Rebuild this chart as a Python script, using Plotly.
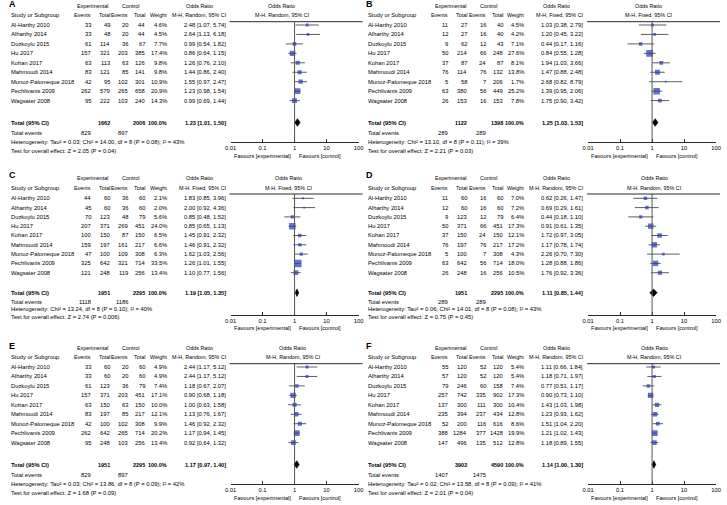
import plotly.graph_objects as go

W, H = 727, 505
FONT = "Liberation Sans, Arial, sans-serif"
TXT = "#000000"
BLUE = "#2438b8"
LINE = "#2a2a2a"
FS = 5.8

studies = ["Al-Harthy 2010", "Alharthy 2014", "Duzkoylu 2015", "Hu 2017", "Kohan 2017",
           "Mahmoudi 2014", "Munoz-Palomeque 2018", "Pechlivanis 2009", "Wagsater 2008"]
tick_vals = [0.01, 0.1, 1, 10, 100]
tick_text = ["0.01", "0.1", "1", "10", "100"]

# ---------------- Panel A ----------------
A_exp_events = [33, 33, 61, 157, 63, 83, 42, 262, 95]
A_exp_total = [49, 48, 114, 321, 113, 121, 95, 579, 222]
A_ctl_events = [20, 20, 36, 203, 63, 85, 102, 265, 103]
A_ctl_total = [44, 44, 67, 385, 126, 141, 301, 658, 240]
A_weight = [4.6, 4.5, 7.7, 17.4, 9.8, 9.8, 10.9, 20.9, 14.3]
A_or = [2.48, 2.64, 0.99, 0.86, 1.26, 1.44, 1.55, 1.23, 0.99]
A_lo = [1.07, 1.13, 0.54, 0.64, 0.76, 0.86, 0.97, 0.98, 0.69]
A_hi = [5.74, 6.18, 1.82, 1.15, 2.10, 2.40, 2.47, 1.54, 1.44]
A_totals = [1662, 2006]
A_pooled = [1.23, 1.01, 1.50]
A_events = [829, 897]
A_method = "M-H, Random, 95% CI"
A_het = "Heterogeneity: Tau² = 0.03; Chi² = 14.00, df = 8 (P = 0.08); I² = 43%"
A_test = "Test for overall effect: Z = 2.05 (P = 0.04)"

# ---------------- Panel B ----------------
B_exp_events = [11, 12, 9, 50, 37, 76, 5, 63, 26]
B_exp_total = [27, 27, 62, 214, 87, 114, 58, 380, 153]
B_ctl_events = [16, 16, 12, 66, 24, 76, 7, 56, 16]
B_ctl_total = [40, 40, 43, 248, 87, 132, 206, 449, 153]
B_weight = [4.5, 4.2, 7.1, 27.6, 8.1, 13.8, 1.7, 25.2, 7.8]
B_or = [1.03, 1.20, 0.44, 0.84, 1.94, 1.47, 2.68, 1.39, 1.75]
B_lo = [0.38, 0.45, 0.17, 0.55, 1.03, 0.88, 0.82, 0.95, 0.90]
B_hi = [2.79, 3.22, 1.16, 1.28, 3.66, 2.48, 8.79, 2.06, 3.42]
B_totals = [1122, 1398]
B_pooled = [1.25, 1.03, 1.53]
B_events = [289, 289]
B_method = "M-H, Fixed, 95% CI"
B_het = "Heterogeneity: Chi² = 13.10, df = 8 (P = 0.11); I² = 39%"
B_test = "Test for overall effect: Z = 2.21 (P = 0.03)"

# ---------------- Panel C ----------------
C_exp_events = [44, 45, 70, 207, 100, 159, 47, 325, 121]
C_exp_total = [60, 60, 123, 371, 150, 197, 100, 642, 248]
C_ctl_events = [36, 36, 48, 269, 87, 161, 109, 321, 119]
C_ctl_total = [60, 60, 79, 451, 150, 217, 308, 714, 256]
C_weight = [2.1, 2.0, 5.6, 24.0, 6.5, 6.6, 6.3, 33.5, 13.4]
C_or = [1.83, 2.00, 0.85, 0.85, 1.45, 1.46, 1.62, 1.26, 1.10]
C_lo = [0.85, 0.92, 0.48, 0.65, 0.91, 0.91, 1.03, 1.01, 0.77]
C_hi = [3.96, 4.36, 1.52, 1.13, 2.32, 2.32, 2.56, 1.55, 1.56]
C_totals = [1951, 2295]
C_pooled = [1.19, 1.05, 1.35]
C_events = [1118, 1186]
C_method = "M-H, Fixed, 95% CI"
C_het = "Heterogeneity: Chi² = 13.24, df = 8 (P = 0.10); I² = 40%"
C_test = "Test for overall effect: Z = 2.74 (P = 0.006)"

# ---------------- Panel D ----------------
D_exp_events = [11, 12, 9, 50, 37, 76, 5, 63, 26]
D_exp_total = [60, 60, 123, 371, 150, 197, 100, 642, 248]
D_ctl_events = [16, 16, 12, 66, 24, 76, 7, 56, 16]
D_ctl_total = [60, 60, 79, 451, 150, 217, 308, 714, 256]
D_weight = [7.0, 7.2, 6.4, 17.3, 12.1, 17.2, 4.3, 18.0, 10.5]
D_or = [0.62, 0.69, 0.44, 0.91, 1.72, 1.17, 2.26, 1.28, 1.76]
D_lo = [0.26, 0.29, 0.18, 0.61, 0.97, 0.78, 0.70, 0.88, 0.92]
D_hi = [1.47, 1.61, 1.10, 1.35, 3.05, 1.74, 7.30, 1.86, 3.36]
D_totals = [1951, 2295]
D_pooled = [1.11, 0.85, 1.44]
D_events = [289, 289]
D_method = "M-H, Random, 95% CI"
D_het = "Heterogeneity: Tau² = 0.06; Chi² = 14.01, df = 8 (P = 0.08); I² = 43%"
D_test = "Test for overall effect: Z = 0.75 (P = 0.45)"

# ---------------- Panel E ----------------
E_exp_events = [33, 33, 61, 157, 63, 83, 42, 262, 95]
E_exp_total = [60, 60, 123, 371, 150, 197, 100, 642, 248]
E_ctl_events = [20, 20, 36, 203, 63, 85, 102, 265, 103]
E_ctl_total = [60, 60, 79, 451, 150, 217, 308, 714, 256]
E_weight = [4.9, 4.9, 7.4, 17.1, 10.0, 12.1, 9.9, 20.2, 13.4]
E_or = [2.44, 2.44, 1.18, 0.90, 1.00, 1.13, 1.46, 1.17, 0.92]
E_lo = [1.17, 1.17, 0.67, 0.68, 0.63, 0.76, 0.92, 0.94, 0.64]
E_hi = [5.12, 5.12, 2.07, 1.18, 1.58, 1.67, 2.32, 1.45, 1.32]
E_totals = [1951, 2295]
E_pooled = [1.17, 0.97, 1.40]
E_events = [829, 897]
E_method = "M-H, Random, 95% CI"
E_het = "Heterogeneity: Tau² = 0.03; Chi² = 13.86, df = 8 (P = 0.09); I² = 42%"
E_test = "Test for overall effect: Z = 1.68 (P = 0.09)"

# ---------------- Panel F ----------------
F_exp_events = [55, 57, 79, 257, 137, 235, 52, 388, 147]
F_exp_total = [120, 120, 246, 742, 300, 394, 200, 1284, 496]
F_ctl_events = [52, 52, 60, 335, 111, 237, 116, 377, 135]
F_ctl_total = [120, 120, 158, 902, 300, 434, 616, 1428, 512]
F_weight = [5.4, 5.4, 7.4, 17.3, 10.4, 12.8, 8.6, 19.9, 12.8]
F_or = [1.11, 1.18, 0.77, 0.90, 1.43, 1.23, 1.51, 1.21, 1.18]
F_lo = [0.66, 0.71, 0.51, 0.73, 1.03, 0.93, 1.04, 1.02, 0.89]
F_hi = [1.84, 1.97, 1.17, 1.10, 1.98, 1.62, 2.20, 1.43, 1.55]
F_totals = [3902, 4590]
F_pooled = [1.14, 1.00, 1.30]
F_events = [1407, 1475]
F_method = "M-H, Random, 95% CI"
F_het = "Heterogeneity: Tau² = 0.02; Chi² = 13.58, df = 8 (P = 0.09); I² = 41%"
F_test = "Test for overall effect: Z = 2.01 (P = 0.04)"


def pack(letter, ee, et, ce, ct, w, o, lo, hi, tots, pooled, ev, method, het, test):
    return dict(letter=letter, ee=ee, et=et, ce=ce, ct=ct, w=w, o=o, lo=lo, hi=hi,
                tots=tots, pooled=pooled, ev=ev, method=method, het=het, test=test)


panels = [
    pack("A", A_exp_events, A_exp_total, A_ctl_events, A_ctl_total, A_weight, A_or, A_lo, A_hi,
         A_totals, A_pooled, A_events, A_method, A_het, A_test),
    pack("B", B_exp_events, B_exp_total, B_ctl_events, B_ctl_total, B_weight, B_or, B_lo, B_hi,
         B_totals, B_pooled, B_events, B_method, B_het, B_test),
    pack("C", C_exp_events, C_exp_total, C_ctl_events, C_ctl_total, C_weight, C_or, C_lo, C_hi,
         C_totals, C_pooled, C_events, C_method, C_het, C_test),
    pack("D", D_exp_events, D_exp_total, D_ctl_events, D_ctl_total, D_weight, D_or, D_lo, D_hi,
         D_totals, D_pooled, D_events, D_method, D_het, D_test),
    pack("E", E_exp_events, E_exp_total, E_ctl_events, E_ctl_total, E_weight, E_or, E_lo, E_hi,
         E_totals, E_pooled, E_events, E_method, E_het, E_test),
    pack("F", F_exp_events, F_exp_total, F_ctl_events, F_ctl_total, F_weight, F_or, F_lo, F_hi,
         F_totals, F_pooled, F_events, F_method, F_het, F_test),
]

# ---------------- layout geometry (pixels) ----------------
GEO_TOP = dict(letter=4, head1=6, head2=15, line=21.7, row0=25, dy=9.45, total=122.5,
               events=133, het=141.5, test=151, axis=142, favours=155.5)
GEO_MID = dict(letter=4, head1=6.7, head2=16.7, line=23, row0=27.3, dy=9.3, total=121.7,
               events=131.3, het=138, test=146.3, axis=144, favours=157)
panel_pos = [(0, 0, GEO_TOP, 280), (363, 0, GEO_TOP, 289),
             (0, 171, GEO_MID, 287), (363, 171, GEO_MID, 295),
             (0, 342, GEO_TOP, 291), (363, 342, GEO_TOP, 295)]
COL = dict(name=4, ee=87, et=106.5, ce=125, ct=142.5, w=164, orr=224,
           exp_c=88, ctl_c=126.5, or_c=196, fl=228, fr=358)
HS = 5.4  # column header font size

fig = go.Figure()
annotations = []
shapes = []


def px(x):
    return x / W


def py(y):
    return 1 - y / H


def ann(x, y, text, anchor="left", size=FS, bold=False):
    if bold:
        text = "<b>" + text + "</b>"
    annotations.append(dict(x=px(x), y=py(y), xref="paper", yref="paper", text=text,
                            showarrow=False, xanchor=anchor, yanchor="middle",
                            font=dict(family=FONT, size=size, color=TXT), borderpad=0))


layout_axes = {}
for k, (p, (x0, y0, g, hx)) in enumerate(zip(panels, panel_pos)):
    idx = k + 1
    xn = "x" if idx == 1 else f"x{idx}"
    yn = "y" if idx == 1 else f"y{idx}"
    ytop = y0 + g["line"]
    ybot = y0 + g["axis"]
    layout_axes["xaxis" if idx == 1 else f"xaxis{idx}"] = dict(
        domain=[px(x0 + COL["fl"]), px(x0 + COL["fr"])], type="log", range=[-2, 2],
        anchor=yn, showgrid=False, zeroline=False, showline=True, linecolor=LINE, linewidth=1,
        ticks="inside", ticklen=3, tickwidth=1, tickcolor=LINE, tickvals=tick_vals,
        ticktext=tick_text, tickfont=dict(family=FONT, size=5.8, color=TXT), fixedrange=True)
    layout_axes["yaxis" if idx == 1 else f"yaxis{idx}"] = dict(
        domain=[py(ybot), py(ytop)], range=[ybot, ytop], anchor=xn, visible=False,
        fixedrange=True)

    rows = [y0 + g["row0"] + i * g["dy"] for i in range(len(studies))]
    ytot = y0 + g["total"]

    # CI lines
    cx, cy = [], []
    for lo, hi, r in zip(p["lo"], p["hi"], rows):
        cx += [lo, hi, None]
        cy += [r, r, None]
    fig.add_trace(go.Scatter(x=cx, y=cy, mode="lines", line=dict(color="#333333", width=0.8),
                             xaxis=xn, yaxis=yn, hoverinfo="skip", showlegend=False))
    # squares, area proportional to weight
    fig.add_trace(go.Scatter(x=p["o"], y=rows, mode="markers",
                             marker=dict(symbol="square", color=BLUE,
                                         size=[1.3 * w ** 0.5 for w in p["w"]], line=dict(width=0)),
                             xaxis=xn, yaxis=yn, hoverinfo="skip", showlegend=False))
    # pooled diamond
    e, lo, hi = p["pooled"]
    dh = 3.8
    fig.add_trace(go.Scatter(x=[lo, e, hi, e, lo], y=[ytot, ytot - dh, ytot, ytot + dh, ytot],
                             mode="lines", fill="toself", fillcolor="#000000",
                             line=dict(color="#000000", width=0.6),
                             xaxis=xn, yaxis=yn, hoverinfo="skip", showlegend=False))
    # vertical null line and header line
    shapes.append(dict(type="line", xref=xn, yref=f"{yn} domain", x0=1, x1=1, y0=0, y1=1,
                       line=dict(color="#555555", width=1)))
    shapes.append(dict(type="line", xref="paper", yref="paper", x0=px(x0 + 227), x1=px(x0 + 362),
                       y0=py(ytop), y1=py(ytop), line=dict(color=LINE, width=1)))

    # text
    ann(x0 + 2, y0 + g["letter"], p["letter"], "left", 9, True)
    ann(x0 + COL["exp_c"], y0 + g["head1"], "Experimental", "center", HS)
    ann(x0 + COL["ctl_c"], y0 + g["head1"], "Control", "center", HS)
    ann(x0 + COL["or_c"], y0 + g["head1"], "Odds Ratio", "center", HS)
    ann(x0 + hx, y0 + g["head1"], "Odds Ratio", "center", HS)
    ann(x0 + COL["name"], y0 + g["head2"], "Study or Subgroup", "left")
    for key, lab in [("ee", "Events"), ("et", "Total"), ("ce", "Events"), ("ct", "Total"), ("w", "Weight")]:
        ann(x0 + COL[key], y0 + g["head2"], lab, "right", HS)
    ann(x0 + COL["orr"], y0 + g["head2"], p["method"], "right", HS)
    ann(x0 + hx, y0 + g["head2"], p["method"], "center", HS)

    for i, r in enumerate(rows):
        ann(x0 + COL["name"], r, studies[i])
        ann(x0 + COL["ee"], r, str(p["ee"][i]), "right")
        ann(x0 + COL["et"], r, str(p["et"][i]), "right")
        ann(x0 + COL["ce"], r, str(p["ce"][i]), "right")
        ann(x0 + COL["ct"], r, str(p["ct"][i]), "right")
        ann(x0 + COL["w"], r, f"{p['w'][i]:.1f}%", "right")
        ann(x0 + COL["orr"], r, f"{p['o'][i]:.2f} [{p['lo'][i]:.2f}, {p['hi'][i]:.2f}]", "right")

    ann(x0 + COL["name"], ytot, "Total (95% CI)", "left", FS, True)
    ann(x0 + COL["et"], ytot, str(p["tots"][0]), "right", 5.5, True)
    ann(x0 + COL["ct"], ytot, str(p["tots"][1]), "right", 5.5, True)
    ann(x0 + COL["w"], ytot, "100.0%", "right", 5.5, True)
    ann(x0 + COL["orr"], ytot, f"{e:.2f} [{lo:.2f}, {hi:.2f}]", "right", 5.6, True)
    ann(x0 + COL["name"], y0 + g["events"], "Total events")
    ann(x0 + COL["ee"], y0 + g["events"], str(p["ev"][0]), "right")
    ann(x0 + COL["ce"], y0 + g["events"], str(p["ev"][1]), "right")
    ann(x0 + COL["name"], y0 + g["het"], p["het"])
    ann(x0 + COL["name"], y0 + g["test"], p["test"])
    ann(x0 + 290, y0 + g["favours"], "Favours [experimental]", "right", 5.6)
    ann(x0 + 296, y0 + g["favours"], "Favours [control]", "left", 5.6)

fig.update_layout(width=W, height=H, margin=dict(l=0, r=0, t=0, b=0),
                  paper_bgcolor="white", plot_bgcolor="white", showlegend=False,
                  annotations=annotations, shapes=shapes, **layout_axes)
fig.write_html("out.html", config={"displayModeBar": False},
               post_script="document.body.style.margin = '0px';")
